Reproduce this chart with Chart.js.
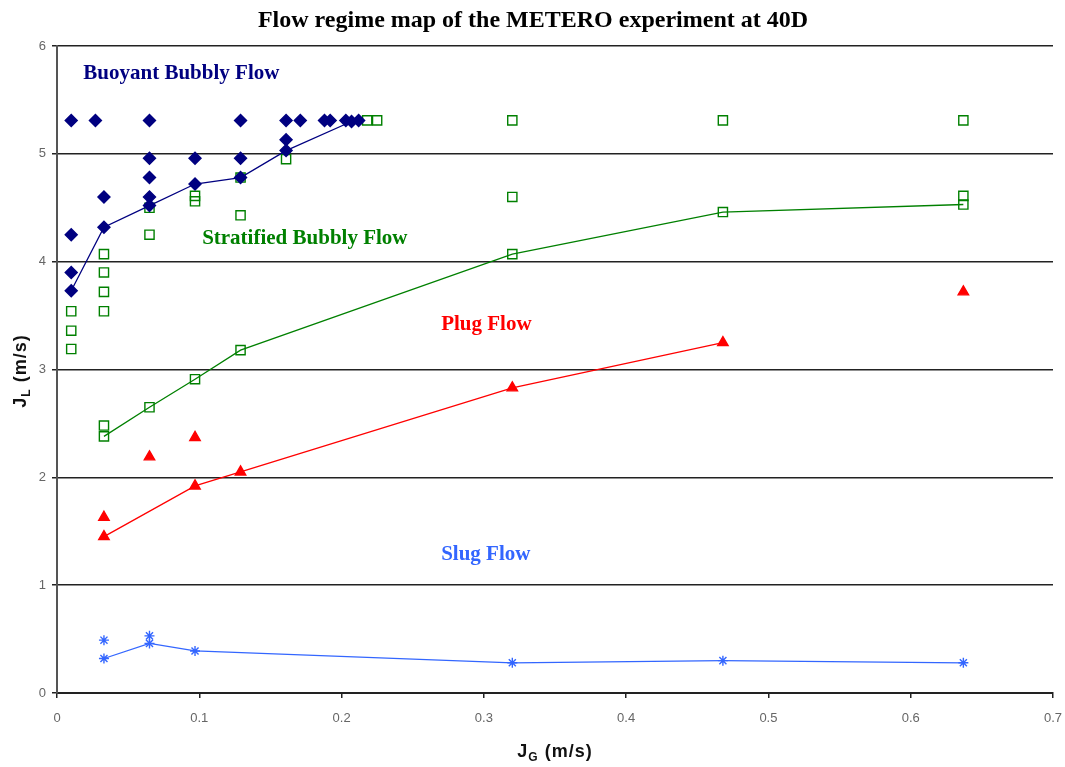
<!DOCTYPE html>
<html>
<head>
<meta charset="utf-8">
<title>Flow regime map</title>
<script src="https://cdn.jsdelivr.net/npm/chart.js@4"></script>
<style>
  html, body { margin: 0; padding: 0; background: #fff; }
  #wrap { width: 1065px; height: 767px; }
</style>
</head>
<body>
<div id="wrap"><canvas id="chart" width="1065" height="767"></canvas></div>
<script>
// Buoyant bubbly flow: boundary line + other points
const bubblyLineX = [0.010, 0.033, 0.065, 0.097, 0.129, 0.161, 0.207];
const bubblyLineY = [3.73, 4.32, 4.52, 4.72, 4.78, 5.03, 5.30];
const bubblyPtsX = [0.010, 0.027, 0.065, 0.129, 0.161, 0.171, 0.188, 0.192, 0.203, 0.212,
                    0.010, 0.010, 0.033, 0.065, 0.065, 0.065, 0.097, 0.129, 0.161];
const bubblyPtsY = [5.31, 5.31, 5.31, 5.31, 5.31, 5.31, 5.31, 5.31, 5.31, 5.31,
                    4.25, 3.90, 4.60, 4.96, 4.78, 4.60, 4.96, 4.96, 5.13];

// Stratified bubbly flow
const stratLineX = [0.033, 0.065, 0.097, 0.129, 0.320, 0.468, 0.637];
const stratLineY = [2.38, 2.65, 2.91, 3.18, 4.07, 4.46, 4.53];
const stratPtsX = [0.010, 0.010, 0.010, 0.033, 0.033, 0.033, 0.033, 0.033, 0.065, 0.065,
                   0.097, 0.097, 0.129, 0.129, 0.161, 0.218, 0.225, 0.320, 0.320, 0.468, 0.637, 0.637];
const stratPtsY = [3.54, 3.36, 3.19, 4.07, 3.90, 3.72, 3.54, 2.48, 4.50, 4.25,
                   4.61, 4.56, 4.78, 4.43, 4.95, 5.31, 5.31, 5.31, 4.60, 5.31, 5.31, 4.61];

// Plug flow
const plugLineX = [0.033, 0.097, 0.129, 0.320, 0.468];
const plugLineY = [1.45, 1.92, 2.05, 2.83, 3.25];
const plugPtsX = [0.033, 0.065, 0.097, 0.637];
const plugPtsY = [1.63, 2.19, 2.37, 3.72];

// Slug flow
const slugLineX = [0.033, 0.065, 0.097, 0.320, 0.468, 0.637];
const slugLineY = [0.32, 0.46, 0.39, 0.28, 0.30, 0.28];
const slugPtsX = [0.033, 0.065];
const slugPtsY = [0.49, 0.53];

const xTicks = [0, 0.1, 0.2, 0.3, 0.4, 0.5, 0.6, 0.7];
const yTicks = [0, 1, 2, 3, 4, 5, 6];

// region labels, anchored in data units (left edge, middle)
const regionLabels = [
  { text: 'Buoyant Bubbly Flow', x: 0.0185, y: 5.74, color: '#000080' },
  { text: 'Stratified Bubbly Flow', x: 0.102, y: 4.21, color: '#008000' },
  { text: 'Plug Flow', x: 0.270, y: 3.42, color: '#ff0000' },
  { text: 'Slug Flow', x: 0.270, y: 1.28, color: '#3366ff' }
];

const NAVY = '#000080', GREEN = '#008000', RED = '#ff0000', SKY = '#3366ff';
const tickFont = { family: "'Liberation Sans', Arial, sans-serif", size: 13 };

function pts(xs, ys) {
  return xs.map((x, i) => ({ x: x, y: ys[i] }));
}

function lineSet(xs, ys, color, style, radius, fill) {
  return {
    data: pts(xs, ys),
    showLine: true,
    borderColor: color,
    borderWidth: 1.3,
    pointStyle: style,
    pointRadius: radius,
    pointBackgroundColor: fill,
    pointBorderColor: color,
    pointBorderWidth: 1.4
  };
}

function pointSet(xs, ys, color, style, radius, fill) {
  return {
    data: pts(xs, ys),
    showLine: false,
    pointStyle: style,
    pointRadius: radius,
    pointBackgroundColor: fill,
    pointBorderColor: color,
    pointBorderWidth: 1.4
  };
}

// draws "J" + subscript + rest, centred on (0,0) of current transform
function subTitle(ctx, main, sub, rest) {
  const big = "bold 18px 'Liberation Sans', Arial, sans-serif";
  const small = "bold 12px 'Liberation Sans', Arial, sans-serif";
  ctx.letterSpacing = '1px';
  ctx.font = big;
  const w1 = ctx.measureText(main).width;
  const w3 = ctx.measureText(rest).width;
  ctx.font = small;
  const w2 = ctx.measureText(sub).width;
  let x = -(w1 + w2 + w3) / 2;
  ctx.textBaseline = 'middle';
  ctx.textAlign = 'left';
  ctx.font = big;
  ctx.fillText(main, x, 0);
  x += w1;
  ctx.font = small;
  ctx.fillText(sub, x, 6);
  x += w2;
  ctx.font = big;
  ctx.fillText(rest, x, 0);
  ctx.letterSpacing = '0px';
}

const textPlugin = {
  id: 'textPlugin',
  afterDraw(chart) {
    const ctx = chart.ctx;
    const xs = chart.scales.x, ys = chart.scales.y;
    ctx.save();

    // title
    ctx.fillStyle = '#000';
    ctx.font = "bold 24px 'Liberation Serif', 'Times New Roman', serif";
    ctx.textAlign = 'center';
    ctx.textBaseline = 'middle';
    ctx.fillText('Flow regime map of the METERO experiment at 40D', 533, 21);

    // region labels
    ctx.font = "bold 21px 'Liberation Serif', 'Times New Roman', serif";
    ctx.textAlign = 'left';
    regionLabels.forEach(l => {
      ctx.fillStyle = l.color;
      ctx.fillText(l.text, xs.getPixelForValue(l.x), ys.getPixelForValue(l.y));
    });

    // axis titles
    ctx.fillStyle = '#111';
    ctx.save();
    ctx.translate(555, 752);
    subTitle(ctx, 'J', 'G', ' (m/s)');
    ctx.restore();

    ctx.save();
    ctx.translate(21, 371);
    ctx.rotate(-Math.PI / 2);
    subTitle(ctx, 'J', 'L', ' (m/s)');
    ctx.restore();

    ctx.restore();
  }
};

new Chart(document.getElementById('chart'), {
  type: 'scatter',
  data: {
    datasets: [
      lineSet(bubblyLineX, bubblyLineY, NAVY, 'rectRot', 6, NAVY),
      pointSet(bubblyPtsX, bubblyPtsY, NAVY, 'rectRot', 6, NAVY),
      lineSet(stratLineX, stratLineY, GREEN, 'rect', 6.5, 'rgba(0,0,0,0)'),
      pointSet(stratPtsX, stratPtsY, GREEN, 'rect', 6.5, 'rgba(0,0,0,0)'),
      lineSet(plugLineX, plugLineY, RED, 'triangle', 6, RED),
      pointSet(plugPtsX, plugPtsY, RED, 'triangle', 6, RED),
      lineSet(slugLineX, slugLineY, SKY, 'star', 5, SKY),
      pointSet(slugPtsX, slugPtsY, SKY, 'star', 5, SKY)
    ]
  },
  options: {
    responsive: false,
    animation: false,
    layout: { padding: { top: 46, right: 0, left: 0, bottom: 0 } },
    plugins: {
      legend: { display: false },
      tooltip: { enabled: false },
      title: { display: false }
    },
    scales: {
      x: {
        type: 'linear',
        min: 0,
        max: 0.7,
        afterBuildTicks: s => { s.ticks = xTicks.map(v => ({ value: v })); },
        afterFit: s => { s.height = 74; s.paddingLeft = 0; s.paddingRight = 12; },
        ticks: { font: tickFont, color: '#666', padding: 13, maxRotation: 0 },
        grid: { drawOnChartArea: false, tickLength: 5, color: '#222', lineWidth: 1.5 },
        border: { color: '#222', width: 2 }
      },
      y: {
        type: 'linear',
        min: 0,
        max: 6,
        afterBuildTicks: s => { s.ticks = yTicks.map(v => ({ value: v })); },
        afterFit: s => { s.width = 57; },
        ticks: { font: tickFont, color: '#666', padding: 6 },
        grid: { color: '#222', lineWidth: 1.5, tickLength: 5 },
        border: { color: '#555', width: 2 }
      }
    }
  },
  plugins: [textPlugin]
});
</script>
</body>
</html>
